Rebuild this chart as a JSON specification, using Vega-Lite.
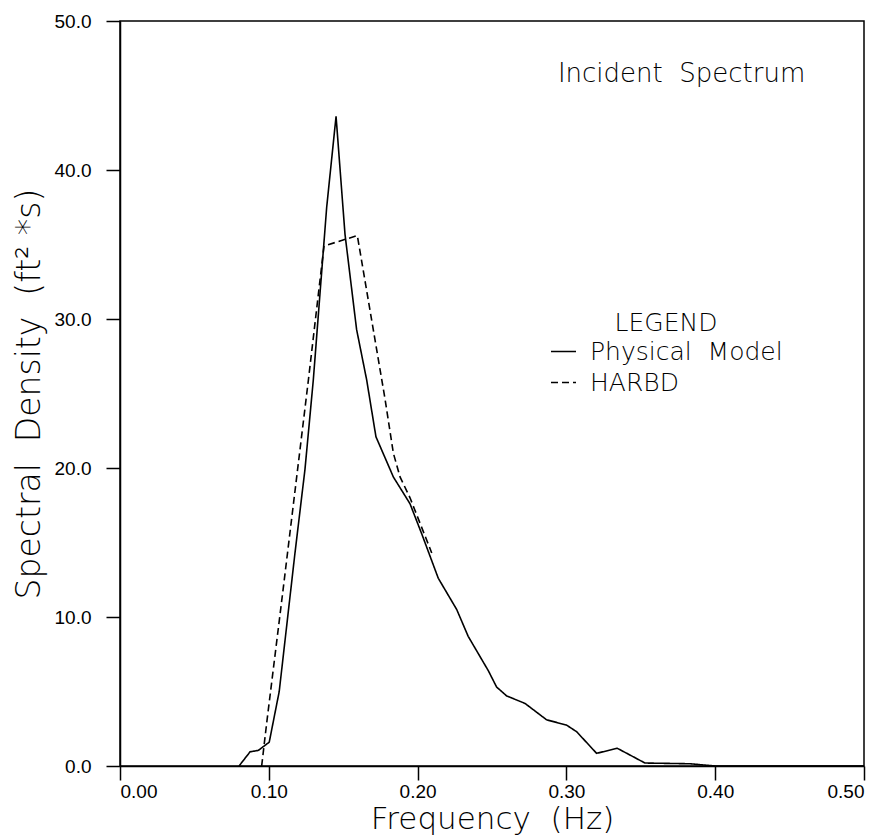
{
  "$schema": "https://vega.github.io/schema/vega-lite/v6.json",
  "autosize": {"type": "none"},
  "padding": {"left": 120, "top": 21, "right": 21, "bottom": 72},
  "width": 744,
  "height": 745,
  "config": {
    "view": {"stroke": "black", "strokeWidth": 1.5},
    "axis": {
      "domainColor": "black", "domainWidth": 1.5, "tickColor": "black", "tickWidth": 1.5,
      "tickSize": 14, "grid": false, "labelFont": "Liberation Sans", "labelFontSize": 19,
      "labelColor": "black", "titleFont": "DejaVu Sans", "titleFontSize": 30,
      "titleFontWeight": 200, "titleColor": "black"
    }
  },
  "datasets": {
    "spectra": [
      {"series": "Physical Model", "freq": 0.080, "density": 0.0},
      {"series": "Physical Model", "freq": 0.0874, "density": 0.95},
      {"series": "Physical Model", "freq": 0.093, "density": 1.05},
      {"series": "Physical Model", "freq": 0.1003, "density": 1.6},
      {"series": "Physical Model", "freq": 0.107, "density": 5.0},
      {"series": "Physical Model", "freq": 0.1176, "density": 14.3},
      {"series": "Physical Model", "freq": 0.1243, "density": 19.9},
      {"series": "Physical Model", "freq": 0.1299, "density": 25.9},
      {"series": "Physical Model", "freq": 0.1389, "density": 37.5},
      {"series": "Physical Model", "freq": 0.1452, "density": 43.6},
      {"series": "Physical Model", "freq": 0.1512, "density": 35.7},
      {"series": "Physical Model", "freq": 0.159, "density": 29.3},
      {"series": "Physical Model", "freq": 0.1658, "density": 25.9},
      {"series": "Physical Model", "freq": 0.172, "density": 22.1},
      {"series": "Physical Model", "freq": 0.1837, "density": 19.4},
      {"series": "Physical Model", "freq": 0.1949, "density": 17.6},
      {"series": "Physical Model", "freq": 0.2027, "density": 15.6},
      {"series": "Physical Model", "freq": 0.2139, "density": 12.6},
      {"series": "Physical Model", "freq": 0.2263, "density": 10.5},
      {"series": "Physical Model", "freq": 0.234, "density": 8.7},
      {"series": "Physical Model", "freq": 0.2475, "density": 6.4},
      {"series": "Physical Model", "freq": 0.2531, "density": 5.3},
      {"series": "Physical Model", "freq": 0.2599, "density": 4.7},
      {"series": "Physical Model", "freq": 0.2722, "density": 4.2},
      {"series": "Physical Model", "freq": 0.2867, "density": 3.1},
      {"series": "Physical Model", "freq": 0.300, "density": 2.75},
      {"series": "Physical Model", "freq": 0.3069, "density": 2.3},
      {"series": "Physical Model", "freq": 0.3203, "density": 0.85},
      {"series": "Physical Model", "freq": 0.3342, "density": 1.19},
      {"series": "Physical Model", "freq": 0.3528, "density": 0.2},
      {"series": "Physical Model", "freq": 0.383, "density": 0.15},
      {"series": "Physical Model", "freq": 0.400, "density": 0.0},
      {"series": "Physical Model", "freq": 0.500, "density": 0.0},
      {"series": "HARBD", "freq": 0.0952, "density": 0.0},
      {"series": "HARBD", "freq": 0.0986, "density": 2.9},
      {"series": "HARBD", "freq": 0.1098, "density": 12.0},
      {"series": "HARBD", "freq": 0.1266, "density": 25.9},
      {"series": "HARBD", "freq": 0.1344, "density": 32.6},
      {"series": "HARBD", "freq": 0.1371, "density": 34.9},
      {"series": "HARBD", "freq": 0.1595, "density": 35.6},
      {"series": "HARBD", "freq": 0.178, "density": 24.7},
      {"series": "HARBD", "freq": 0.1837, "density": 21.0},
      {"series": "HARBD", "freq": 0.1882, "density": 19.4},
      {"series": "HARBD", "freq": 0.1949, "density": 18.0},
      {"series": "HARBD", "freq": 0.2095, "density": 14.3}
    ],
    "notes": [
      {"label": "Incident\u00a0\u00a0Spectrum", "freq": 0.3774, "density": 45.9}
    ]
  },
  "layer": [
    {
      "data": {"name": "spectra"},
      "mark": {"type": "line", "color": "black", "strokeWidth": 1.6, "clip": true},
      "encoding": {
        "x": {
          "field": "freq", "type": "quantitative",
          "scale": {"domain": [0, 0.5], "nice": false},
          "axis": {"values": [0, 0.1, 0.2, 0.3, 0.4, 0.5], "format": ".2f", "title": "Frequency\u00a0\u00a0(Hz)",
                   "labelPadding": 2, "titlePadding": 3, "labelFontSize": 19, "titleFontSize": 31}
        },
        "y": {
          "field": "density", "type": "quantitative",
          "scale": {"domain": [0, 50], "nice": false},
          "axis": {"values": [0, 10, 20, 30, 40, 50], "format": ".1f", "title": "Spectral\u00a0\u00a0Density\u00a0\u00a0(ft² *s)",
                   "labelPadding": 15, "titlePadding": 8, "labelFontSize": 19, "titleFontSize": 33}
        },
        "strokeDash": {
          "field": "series", "type": "nominal",
          "scale": {"domain": ["Physical Model", "HARBD"], "range": [[1, 0], [7, 4]]},
          "legend": {
            "title": "LEGEND", "orient": "none", "legendX": 430, "legendY": 290,
            "padding": 0, "titleAnchor": "middle", "titleFont": "DejaVu Sans", "titleFontSize": 25,
            "titleFontWeight": 200, "titleColor": "black", "titlePadding": 2, "titleLimit": 400,
            "labelFont": "DejaVu Sans", "labelFontSize": 25, "labelFontWeight": 200, "labelColor": "black", "labelOffset": 13,
            "labelLimit": 400,
            "symbolType": "stroke", "symbolSize": 625, "symbolStrokeWidth": 1.6, "symbolStrokeColor": "black",
            "rowPadding": 4, "labelExpr": "datum.label == 'Physical Model' ? 'Physical\u00a0\u00a0Model' : datum.label"
          }
        },
        "order": {"field": "freq", "type": "quantitative"}
      }
    },
    {
      "data": {"name": "notes"},
      "mark": {"type": "text", "font": "DejaVu Sans", "fontSize": 26, "fontWeight": 200, "align": "center", "baseline": "alphabetic", "color": "black"},
      "encoding": {
        "x": {"field": "freq", "type": "quantitative"},
        "y": {"field": "density", "type": "quantitative"},
        "text": {"field": "label"}
      }
    }
  ]
}
